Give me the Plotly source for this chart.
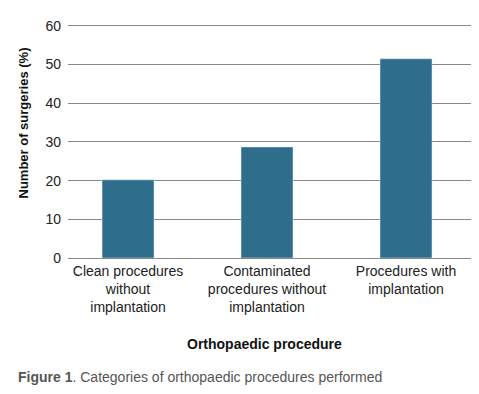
import plotly.graph_objects as go

categories = ["Clean procedures<br>without<br>implantation",
              "Contaminated<br>procedures without<br>implantation",
              "Procedures with<br>implantation"]
values = [20.2, 28.7, 51.5]
y_ticks = [0, 10, 20, 30, 40, 50, 60]

FONT = "Liberation Sans, Arial, sans-serif"

# page body has an 8px margin; figure sized to fill the rest of the window
W_FIG, H_FIG = 471, 386
ML, MR, MT, MB = 60, 7, 14, 136

fig = go.Figure(go.Bar(x=categories, y=values, marker_color="#2e6d8c",
                       width=0.374, hoverinfo="skip"))

H = H_FIG - MT - MB
W = W_FIG - ML - MR
def px_x(p): return (p - ML) / W
def px_y(p): return (H_FIG - MB - p) / H

fig.update_layout(
    width=W_FIG, height=H_FIG,
    margin=dict(l=ML, r=MR, t=MT, b=MB, autoexpand=False),
    paper_bgcolor="white", plot_bgcolor="white",
    showlegend=False,
    font=dict(family=FONT, size=14, color="#222"),
    xaxis=dict(range=[-0.432, 2.475], showgrid=False, showline=False,
               ticks="", ticklabelstandoff=3,
               tickfont=dict(size=14, color="#222"), fixedrange=True),
    yaxis=dict(range=[0, 61], tickvals=y_ticks, showgrid=True,
               gridcolor="#888", gridwidth=1, zeroline=True,
               zerolinecolor="#888", zerolinewidth=1, showline=False,
               ticks="", ticklabelstandoff=6,
               tickfont=dict(size=14, color="#222")),
    annotations=[
        dict(text="<b>Number of surgeries (%)</b>", x=px_x(14.5), y=px_y(115),
             xref="paper", yref="paper", showarrow=False, textangle=-90,
             xanchor="center", yanchor="middle",
             font=dict(size=13, color="#111")),
        dict(text="<b>Orthopaedic procedure</b>", x=px_x(256), y=px_y(336),
             xref="paper", yref="paper", showarrow=False,
             xanchor="center", yanchor="middle",
             font=dict(size=14, color="#111")),
        dict(text="<b>Figure 1</b>. Categories of orthopaedic procedures performed",
             x=px_x(8), y=px_y(369), xref="paper", yref="paper", showarrow=False,
             xanchor="left", yanchor="middle", font=dict(size=14, color="#555")),
    ],
)

fig.write_html("out.html")
